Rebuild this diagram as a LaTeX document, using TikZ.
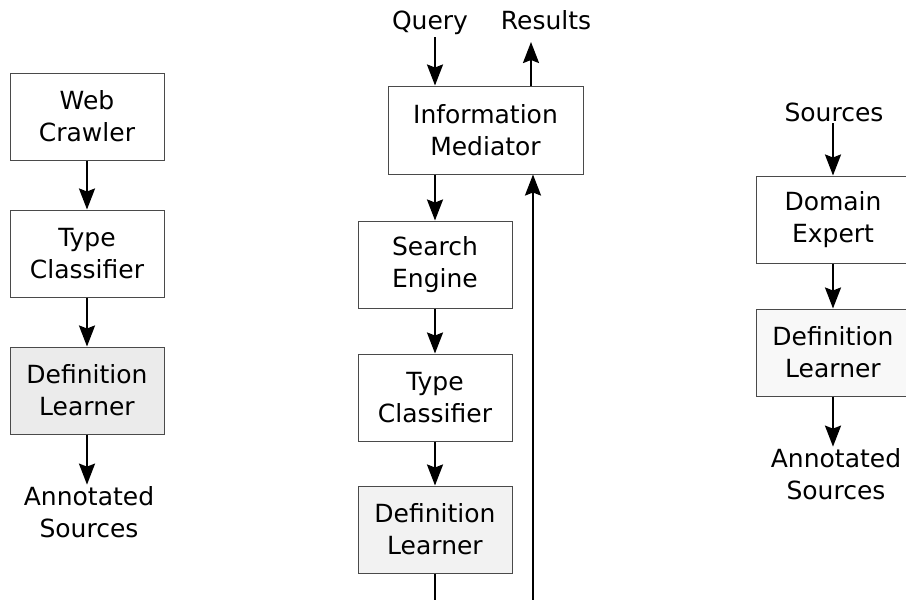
\documentclass[tikz,border=0pt]{standalone}
\usepackage{fontspec}
\setmainfont{DejaVu Sans}
\usetikzlibrary{arrows.meta}
\definecolor{boxline}{HTML}{4A4A4A}
\definecolor{fillA}{HTML}{EBEBEB}
\definecolor{fillB}{HTML}{F2F2F2}
\definecolor{fillC}{HTML}{F8F8F8}
\begin{document}
\begin{tikzpicture}[x=1pt,y=-1pt,
  every node/.style={font=\fontsize{25}{32}\selectfont, align=center},
  proc/.style={draw=boxline, line width=1pt, minimum width=154pt, minimum height=87pt, inner sep=0pt},
  lbl/.style={inner sep=1.5pt},
  arr/.style={line width=2.2pt, -{Stealth[length=21pt,width=16pt,inset=3pt]}},
  ln/.style={line width=2.2pt}]
\useasboundingbox (0,0) rectangle (906,600);
% left column
\node[proc] (wc) at (87,116.5) {Web\\Crawler};
\node[proc] (tc1) at (87,253.5) {Type\\Classifier};
\node[proc, fill=fillA] (dl1) at (87,390.5) {Definition\\Learner};
\node[lbl] (an1) at (89,512) {Annotated\\Sources};
\draw[arr] (wc) -- (tc1);
\draw[arr] (tc1) -- (dl1);
\draw[arr] (dl1) -- (dl1.south |- an1.north);
% centre column
\node[lbl, anchor=base] (query) at (430,29) {Query};
\node[lbl, anchor=base] (results) at (546,29) {Results};
\node[proc, minimum width=195pt, minimum height=88pt] (im) at (485.5,130) {Information\\Mediator};
\node[proc] (se) at (435,264.5) {Search\\Engine};
\node[proc] (tc2) at (435,397.5) {Type\\Classifier};
\node[proc, fill=fillB] (dl2) at (435,529.5) {Definition\\Learner};
\coordinate (qa) at (435,37);
\coordinate (ra) at (531,42);
\coordinate (fb) at (533,600);
\coordinate (out) at (435,600);
\draw[arr] (qa) -- (qa |- im.north);
\draw[arr] (ra |- im.north) -- (ra);
\draw[arr] (se.north |- im.south) -- (se.north);
\draw[arr] (se) -- (tc2);
\draw[arr] (tc2) -- (dl2);
\draw[ln] (dl2) -- (out);
\draw[arr] (fb) -- (fb |- im.south);
% right column
\node[lbl] (src) at (834,112) {Sources};
\node[proc] (de) at (833,219.5) {Domain\\Expert};
\node[proc, fill=fillC] (dl3) at (833,352.5) {Definition\\Learner};
\node[lbl] (an3) at (836,474) {Annotated\\Sources};
\draw[arr] (src.south -| de) -- (de);
\draw[arr] (de) -- (dl3);
\draw[arr] (dl3) -- (dl3.south |- an3.north);
\end{tikzpicture}
\end{document}
